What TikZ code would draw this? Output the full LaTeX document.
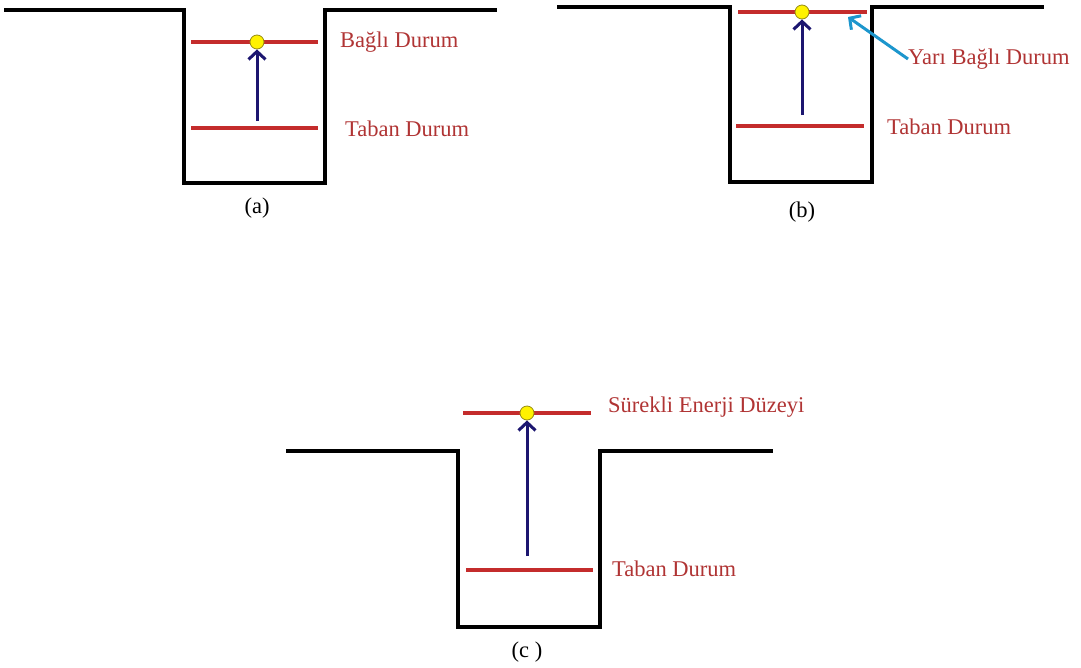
\documentclass[tikz,border=0pt]{standalone}
\usepackage{fontspec}
\setmainfont{Liberation Serif}
\usetikzlibrary{arrows.meta}
\definecolor{level}{RGB}{196,44,44}
\definecolor{labeltext}{RGB}{176,52,52}
\definecolor{jump}{RGB}{28,22,112}
\definecolor{hint}{RGB}{28,150,205}
\definecolor{dotrim}{RGB}{150,140,20}
\tikzset{
  well/.style={line width=4.5pt,line join=miter},
  lev/.style={level,line width=4pt},
  elec/.style={circle,fill=yellow,draw=dotrim,line width=0.8pt,minimum size=14pt,inner sep=0pt},
  lab/.style={anchor=west,text=labeltext,font=\fontsize{22.5}{27}\selectfont,inner sep=0pt},
  panelname/.style={font=\fontsize{22.5}{27}\selectfont,inner sep=0pt}
}
\begin{document}
\begin{tikzpicture}[x=1pt,y=-1pt,>={Straight Barb[length=8pt,width=17pt]}]
  \useasboundingbox (0,0) rectangle (1081,667);
  % (a)
  \draw[well](4,10)--(184,10)--(184,183)--(325,183)--(325,10)--(497,10);
  \draw[lev](191,42)--(318,42);
  \draw[lev](191,128)--(318,128);
  \node[elec] (ea) at (257,42){};
  \coordinate (ga) at (257,121);
  \draw[->,jump,line width=3pt](ga)--(ea);
  \node[lab] (ba) at (340,42){Bağlı Durum};
  \node[lab] (ta) at (345,129){Taban Durum};
  \node[panelname] (na) at (257,208){(a)};
  % (b)
  \draw[well](557,7)--(730,7)--(730,182)--(872,182)--(872,7)--(1044,7);
  \draw[lev](738,12)--(867,12);
  \draw[lev](736,126)--(864,126);
  \node[elec] (eb) at (802,12){};
  \coordinate (gb) at (802,115);
  \draw[->,jump,line width=3pt](gb)--(eb);
  \node[lab] (yb) at (908,59){Yarı Bağlı Durum};
  \node[lab] (tb) at (887,127){Taban Durum};
  \coordinate (pb) at (848,17);
  \draw[->,hint,line width=3pt](yb.west)--(pb);
  \node[panelname] (nb) at (802,212){(b)};
  % (c)
  \draw[well](286,451)--(458,451)--(458,627)--(600,627)--(600,451)--(773,451);
  \draw[lev](463,413)--(591,413);
  \draw[lev](466,570)--(593,570);
  \node[elec] (ec) at (527,413){};
  \coordinate (gc) at (527,556);
  \draw[->,jump,line width=3pt](gc)--(ec);
  \node[lab] (sc) at (608,407){Sürekli Enerji Düzeyi};
  \node[lab] (tc) at (612,569){Taban Durum};
  \node[panelname] (nc) at (527,652){(c )};
\end{tikzpicture}
\end{document}
